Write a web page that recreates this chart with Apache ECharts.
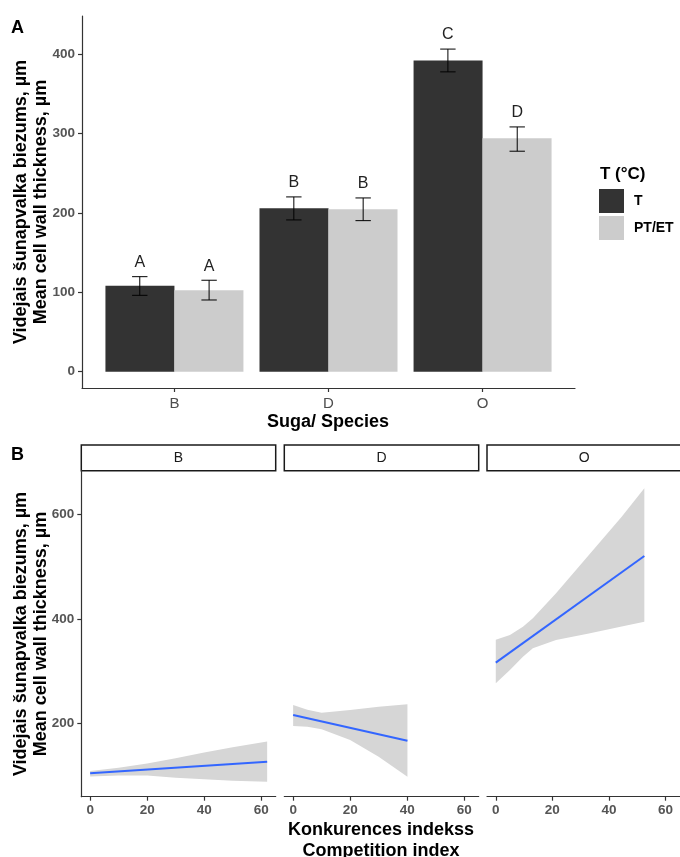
<!DOCTYPE html>
<html>
<head>
<meta charset="utf-8">
<script src="https://cdn.jsdelivr.net/npm/echarts@6/dist/echarts.min.js"></script>
<style>html,body{margin:0;padding:0;background:#fff;}#c{width:680px;height:857px;}</style>
</head>
<body>
<div id="c"></div>
<script>
// ---------- Panel A data ----------
const species = ['B', 'D', 'O'];
const groups = ['T', 'PT/ET'];
const meanT = [108.5, 206, 392.3];
const meanPT = [102.6, 204.8, 294.3];
const errLoT = [96.3, 191.3, 377.9];
const errHiT = [119.8, 220.3, 406.6];
const errLoPT = [90.4, 190.4, 277.9];
const errHiPT = [115.3, 219.0, 308.5];
const lettersT = ['A', 'B', 'C'];
const lettersPT = ['A', 'B', 'D'];
const yTicksA = [0, 100, 200, 300, 400];

// ---------- Panel B data ----------
const facets = ['B', 'D', 'O'];
const fitX_B = [0, 62.1];
const fitY_B = [104.3, 126.5];
const bandX_B = [0, 10, 20, 30, 40, 50, 62.1];
const bandLo_B = [98, 100, 100, 96, 93, 90, 88];
const bandHi_B = [108.7, 115, 123, 133, 144, 154, 165];

const fitX_D = [0, 40.1];
const fitY_D = [215.9, 166.7];
const bandX_D = [0, 5, 10, 20, 30, 40.1];
const bandLo_D = [194.8, 193.5, 188.5, 168, 136, 97.8];
const bandHi_D = [235, 226, 220.3, 225.5, 231.8, 236.4];

const fitX_O = [0, 52.5];
const fitY_O = [316, 520.2];
const bandX_O = [0, 5, 9.6, 13.1, 21.3, 32.9, 44.5, 52.5];
const bandLo_O = [276.6, 302, 327.5, 343.5, 359.4, 372, 385, 394.5];
const bandHi_O = [359.8, 369, 384.9, 401, 448.8, 522, 595.4, 649.8];

const xTicksB = [0, 20, 40, 60];
const yTicksB = [200, 400, 600];

// ---------- chart ----------
const FONT = '"Liberation Sans", Arial, sans-serif';
const chart = echarts.init(document.getElementById('c'), null, {renderer: 'canvas'});

function errSeries(name, lo, hi, letters, offset) {
  return {
    name: name, type: 'custom', xAxisIndex: 0, yAxisIndex: 0, z: 5,
    data: species.map((s, i) => [i + 1, lo[i], hi[i]]),
    renderItem: function (params, api) {
      const x = api.value(0) + offset;
      const pLo = api.coord([x, api.value(1)]);
      const pHi = api.coord([x, api.value(2)]);
      const half = api.size([0.05, 0])[0];
      const st = {stroke: '#000', lineWidth: 1};
      return {
        type: 'group',
        children: [
          {type: 'line', shape: {x1: pLo[0], y1: pLo[1], x2: pHi[0], y2: pHi[1]}, style: st},
          {type: 'line', shape: {x1: pLo[0] - half, y1: pLo[1], x2: pLo[0] + half, y2: pLo[1]}, style: st},
          {type: 'line', shape: {x1: pHi[0] - half, y1: pHi[1], x2: pHi[0] + half, y2: pHi[1]}, style: st},
          {type: 'text', x: pHi[0], y: pHi[1] - 6,
           style: {text: letters[params.dataIndex], font: '16px ' + FONT, fill: '#222', align: 'center', verticalAlign: 'bottom'}}
        ]
      };
    }
  };
}

function bandSeries(idx, bx, lo, hi) {
  return {
    type: 'custom', xAxisIndex: idx, yAxisIndex: idx, z: 1, silent: true,
    data: bx.map((x, i) => [x, lo[i], hi[i]]),
    renderItem: function (params, api) {
      if (params.dataIndex !== 0) return null;
      const pts = [];
      for (let i = 0; i < bx.length; i++) pts.push(api.coord([bx[i], hi[i]]));
      for (let i = bx.length - 1; i >= 0; i--) pts.push(api.coord([bx[i], lo[i]]));
      return {type: 'polygon', shape: {points: pts, smooth: 0}, style: {fill: '#D6D6D6', stroke: null}};
    }
  };
}

function lineSeries(idx, fx, fy) {
  return {
    type: 'line', xAxisIndex: idx, yAxisIndex: idx, z: 3, symbol: 'none', silent: true,
    data: fx.map((x, i) => [x, fy[i]]),
    lineStyle: {color: '#3366FF', width: 2}
  };
}

const axisLineStyle = {show: true, onZero: false, lineStyle: {color: '#333', width: 1.2}};
const tickStyle = {lineStyle: {color: '#333', width: 1.2}, length: 4};

const gridsB = [81.3, 284.3, 487];

const xAxes = [{
  gridIndex: 0, type: 'value', min: 0.4, max: 3.6,
  axisLine: axisLineStyle, splitLine: {show: false},
  axisTick: Object.assign({show: true, customValues: [1, 2, 3]}, tickStyle),
  axisLabel: {customValues: [1, 2, 3], formatter: v => species[Math.round(v) - 1],
    color: '#4d4d4d', fontSize: 15, fontFamily: FONT, margin: 8}
}];
const yAxes = [{
  gridIndex: 0, type: 'value', min: -20.5, max: 448.3,
  axisLine: axisLineStyle, splitLine: {show: false},
  axisTick: Object.assign({show: true, customValues: yTicksA}, tickStyle),
  axisLabel: {customValues: yTicksA, color: '#555', fontSize: 13.5, fontWeight: 'bold', fontFamily: FONT, margin: 7}
}];
for (let k = 0; k < 3; k++) {
  xAxes.push({
    gridIndex: k + 1, type: 'value', min: -3.1, max: 65.1,
    axisLine: axisLineStyle, splitLine: {show: false},
    axisTick: Object.assign({show: true, customValues: xTicksB}, tickStyle),
    axisLabel: {customValues: xTicksB, color: '#555', fontSize: 13.5, fontWeight: 'bold', fontFamily: FONT, margin: 7}
  });
  yAxes.push({
    gridIndex: k + 1, type: 'value', min: 59.5, max: 683.4, show: k === 0,
    axisLine: axisLineStyle, splitLine: {show: false},
    axisTick: Object.assign({show: true, customValues: yTicksB}, tickStyle),
    axisLabel: {customValues: yTicksB, color: '#555', fontSize: 13.5, fontWeight: 'bold', fontFamily: FONT, margin: 7}
  });
}

const yTitle = 'Videjais šunapvalka biezums, µm\nMean cell wall thickness, µm';
const graphics = [
  {type: 'text', left: 11, top: 19, style: {text: 'A', font: 'bold 18px ' + FONT, fill: '#000'}},
  {type: 'text', left: 11, top: 446, style: {text: 'B', font: 'bold 18px ' + FONT, fill: '#000'}},
  {type: 'text', x: 31.5, y: 202, rotation: Math.PI / 2,
   style: {text: yTitle, font: 'bold 18px ' + FONT, fill: '#000', align: 'center', verticalAlign: 'middle', lineHeight: 20}},
  {type: 'text', x: 31.5, y: 634, rotation: Math.PI / 2,
   style: {text: yTitle, font: 'bold 18px ' + FONT, fill: '#000', align: 'center', verticalAlign: 'middle', lineHeight: 20}},
  {type: 'text', x: 328, y: 422, style: {text: 'Suga/ Species', font: 'bold 18px ' + FONT, fill: '#000', align: 'center', verticalAlign: 'middle'}},
  {type: 'text', x: 381, y: 841, style: {text: 'Konkurences indekss\nCompetition index', font: 'bold 18px ' + FONT, fill: '#000', align: 'center', verticalAlign: 'middle', lineHeight: 21}},
  {type: 'text', x: 600, y: 174, style: {text: 'T (°C)', font: 'bold 17px ' + FONT, fill: '#000', align: 'left', verticalAlign: 'middle'}}
];
facets.forEach((f, k) => {
  graphics.push({type: 'rect', shape: {x: gridsB[k], y: 445, width: 194.4, height: 25.7},
    style: {fill: '#fff', stroke: '#1a1a1a', lineWidth: 1.5}});
  graphics.push({type: 'text', x: gridsB[k] + 97.2, y: 458,
    style: {text: f, font: '14px ' + FONT, fill: '#1a1a1a', align: 'center', verticalAlign: 'middle'}});
});

const option = {
  animation: false,
  backgroundColor: '#fff',
  grid: [
    {left: 82, top: 16, width: 493, height: 372},
    {left: gridsB[0], top: 470.7, width: 194.4, height: 326},
    {left: gridsB[1], top: 470.7, width: 194.4, height: 326},
    {left: gridsB[2], top: 470.7, width: 194.4, height: 326}
  ],
  xAxis: xAxes,
  yAxis: yAxes,
  legend: {
    data: groups, orient: 'vertical', left: 599, top: 189, itemWidth: 25, itemHeight: 24, itemGap: 3,
    icon: 'rect', padding: 0,
    textStyle: {fontFamily: FONT, fontSize: 14, fontWeight: 'bold', color: '#000', padding: [0, 0, 0, 5]}
  },
  graphic: graphics,
  series: [
    {name: groups[0], type: 'bar', xAxisIndex: 0, yAxisIndex: 0, barWidth: 69, barGap: '0%',
     data: species.map((s, i) => [i + 1, meanT[i]]), itemStyle: {color: '#333333'}, z: 2},
    {name: groups[1], type: 'bar', xAxisIndex: 0, yAxisIndex: 0, barWidth: 69, barGap: '0%',
     data: species.map((s, i) => [i + 1, meanPT[i]]), itemStyle: {color: '#CCCCCC'}, z: 2},
    errSeries('errT', errLoT, errHiT, lettersT, -0.225),
    errSeries('errPT', errLoPT, errHiPT, lettersPT, 0.225),
    bandSeries(1, bandX_B, bandLo_B, bandHi_B),
    bandSeries(2, bandX_D, bandLo_D, bandHi_D),
    bandSeries(3, bandX_O, bandLo_O, bandHi_O),
    lineSeries(1, fitX_B, fitY_B),
    lineSeries(2, fitX_D, fitY_D),
    lineSeries(3, fitX_O, fitY_O)
  ]
};
chart.setOption(option);
</script>
</body>
</html>
